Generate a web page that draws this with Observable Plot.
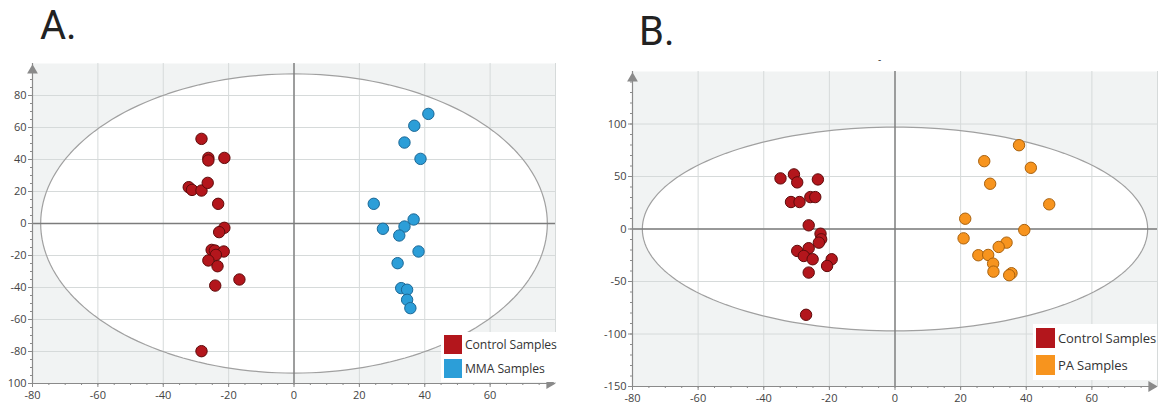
<!DOCTYPE html>
<html><head><meta charset="utf-8">
<script src="https://cdn.jsdelivr.net/npm/d3@7"></script>
<script src="https://cdn.jsdelivr.net/npm/@observablehq/plot@0.6"></script>
<style>
body{margin:0;background:#fff;font-family:"Open Sans",sans-serif;width:1171px;height:411px;position:relative;overflow:hidden}
.panel{position:absolute;top:50px}
.title{position:absolute;font-family:Roboto,sans-serif;font-size:40px;line-height:normal;color:#222}
.legend{position:absolute;background:#fff;color:#333;white-space:nowrap}
.legend .row{display:flex;align-items:center}
.legend .sw{display:inline-block;flex:none}
.dash{position:absolute;font-size:10px;line-height:normal;color:#333}
</style></head><body>
<div class="title" style="left:40px;top:2px">A.</div>
<div class="title" style="left:639px;top:8px">B.</div>
<div class="dash" style="left:878px;top:52px">-</div>
<div id="pA" class="panel" style="left:0px"></div>
<div id="pB" class="panel" style="left:580px"></div>
<div class="legend" style="left:441px;top:332px;width:116px;height:50px;font-size:12.2px;letter-spacing:-0.1px">
  <div class="row" style="height:24px"><span class="sw" style="width:18px;height:19px;background:#b3161c;margin:0 3px"></span>Control Samples</div>
  <div class="row" style="height:24px"><span class="sw" style="width:18px;height:19px;background:#2c9ed8;margin:0 3px"></span>MMA Samples</div>
</div>
<div class="legend" style="left:1033px;top:324px;width:124px;height:56px;font-size:13px;letter-spacing:-0.1px">
  <div class="row" style="height:27px"><span class="sw" style="width:19px;height:20px;background:#b3161c;margin:0 3px"></span>Control Samples</div>
  <div class="row" style="height:27px"><span class="sw" style="width:19px;height:20px;background:#f7941e;margin:0 3px"></span>PA Samples</div>
</div>
<script>
// ---- Panel A data ----
const controlA_x = [-28.3,-26.2,-26.2,-21.3,-32.2,-31.2,-28.3,-26.4,-23.2,-21.3,-22.9,-25.2,-24.2,-21.5,-23.9,-26.2,-23.4,-16.7,-24.1,-28.3];
const controlA_y = [52.9,41.0,39.4,41.0,22.7,21.0,20.6,25.4,12.3,-2.7,-5.4,-16.5,-16.9,-17.5,-19.6,-23.1,-26.7,-35.0,-38.8,-79.8];
const mmaA_x = [41.1,36.8,33.8,38.7,24.4,36.6,33.8,27.2,32.2,38.1,31.7,32.8,34.6,34.6,35.6];
const mmaA_y = [68.5,61.1,50.6,40.4,12.3,2.5,-1.9,-3.3,-7.5,-17.5,-24.8,-40.4,-41.4,-47.7,-52.9];
// ---- Panel B data ----
const controlB_x = [-34.9,-30.8,-29.8,-23.5,-31.7,-29.1,-25.8,-24.3,-26.3,-22.7,-22.5,-23.2,-29.8,-26.3,-27.8,-25.1,-19.3,-20.7,-26.3,-27.1];
const controlB_y = [48.2,52.0,44.4,47.2,25.7,25.7,30.4,30.4,3.5,-4.5,-9.8,-13.0,-20.9,-18.3,-25.7,-28.8,-28.8,-35.2,-41.5,-81.7];
const paB_x = [37.8,27.2,41.4,29.0,47.0,21.4,39.4,20.9,34.0,31.6,25.4,28.4,29.9,30.0,35.5,34.8];
const paB_y = [79.8,64.6,58.3,43.1,23.5,9.8,-1.0,-8.9,-13.0,-17.1,-25.0,-24.7,-33.0,-40.6,-42.1,-44.0];
// ---- Ellipse semi-axes (x, y) ----
const ellipseA = [77.5, 93.5];
const ellipseB = [77, 97];
// ---- Ticks ----
const xTicks = [-80,-60,-40,-20,0,20,40,60];
const xTickLabels = ["-80","-60","-40","-20","0","20","40","60"];
const yTicksA = [-100,-80,-60,-40,-20,0,20,40,60,80];
const yTickLabelsA = ["100","-80","-60","-40","-20","0","20","40","60","80"];
const yTicksB = [-150,-100,-50,0,50,100];
const yTickLabelsB = ["-150","-100","-50","0","50","100"];

const RED = {fill:"#b3161c", stroke:"#5e0b0b"};
const BLUE = {fill:"#2c9ed8", stroke:"#1b6795"};
const ORANGE = {fill:"#f7941e", stroke:"#a9620f"};

function pts(xs, ys){ return xs.map((x,i)=>({x, y: ys[i]})); }
function ellipsePts([a,b]){ return d3.range(0, 360, 2).map(t => ({x: a*Math.cos(t*Math.PI/180), y: b*Math.sin(t*Math.PI/180)})); }

function panel(o){
  const [y0, y1] = o.yDomain;
  const ell = ellipsePts(o.ell);
  return Plot.plot({
    width: o.width, height: 361,
    marginLeft: o.marginLeft, marginRight: o.marginRight, marginTop: o.marginTop, marginBottom: o.marginBottom,
    x: {domain: [-80, 80], label: null},
    y: {domain: o.yDomain, label: null},
    style: {fontFamily: "'Open Sans', sans-serif", fontSize: "11px", color: "#444", background: "transparent", overflow: "visible"},
    marks: [
      Plot.frame({fill: "#f1f3f3", stroke: null}),
      Plot.line(ell, {x: "x", y: "y", fill: "white", stroke: "none", curve: "linear-closed"}),
      Plot.gridX({ticks: [...xTicks, 80], stroke: "#d6dada", strokeOpacity: 1}),
      Plot.gridY({ticks: o.yTicks.filter(d => d !== y0), stroke: "#d6dada", strokeOpacity: 1}),
      Plot.line(ell, {x: "x", y: "y", stroke: "#a0a0a0", strokeWidth: 1.2, curve: "linear-closed"}),
      Plot.ruleX([0], {stroke: "#7c7c7c", strokeWidth: 1.4}),
      Plot.ruleY([0], {stroke: "#7c7c7c", strokeWidth: 1.4}),
      Plot.ruleX([-80], {stroke: "#8a8a8a", strokeWidth: 1.2}),
      Plot.ruleY([y0], {stroke: "#8a8a8a", strokeWidth: 1.2}),
      Plot.axisX({ticks: d3.range(-80, 80, 5), tickSize: 2, tickFormat: () => "", stroke: "#8a8a8a"}),
      Plot.axisX({ticks: xTicks, tickSize: 4, tickPadding: 4, stroke: "#8a8a8a", tickFormat: d => xTickLabels[xTicks.indexOf(d)]}),
      Plot.axisY({ticks: o.yMinor, tickSize: 2, tickFormat: () => "", stroke: "#8a8a8a"}),
      Plot.axisY({ticks: o.yTicks, tickSize: 4, tickPadding: 2, stroke: "#8a8a8a", tickFormat: d => o.yLabels[o.yTicks.indexOf(d)]}),
      Plot.dot([{x: -80, y: y1}], {x: "x", y: "y", symbol: "triangle", r: 4, fill: "#8a8a8a", dy: 7}),
      Plot.dot([{x: 80, y: y0}], {x: "x", y: "y", symbol: "triangle", r: 4, fill: "#8a8a8a", rotate: 90, dx: -6}),
      ...o.groups.map(g => Plot.dot(g.data, {x: "x", y: "y", r: 5.7, fill: g.color.fill, stroke: g.color.stroke, strokeWidth: 1}))
    ]
  });
}

document.getElementById("pA").append(panel({
  width: 570, marginLeft: 32, marginRight: 15, marginTop: 13, marginBottom: 28,
  yDomain: [-100, 100], yTicks: yTicksA, yLabels: yTickLabelsA, yMinor: d3.range(-100, 100, 5),
  ell: ellipseA,
  groups: [{data: pts(controlA_x, controlA_y), color: RED}, {data: pts(mmaA_x, mmaA_y), color: BLUE}]
}));
document.getElementById("pB").append(panel({
  width: 591, marginLeft: 52, marginRight: 14, marginTop: 21, marginBottom: 25,
  yDomain: [-150, 150], yTicks: yTicksB, yLabels: yTickLabelsB, yMinor: d3.range(-150, 150, 10),
  ell: ellipseB,
  groups: [{data: pts(controlB_x, controlB_y), color: RED}, {data: pts(paB_x, paB_y), color: ORANGE}]
}));
</script>
</body></html>
